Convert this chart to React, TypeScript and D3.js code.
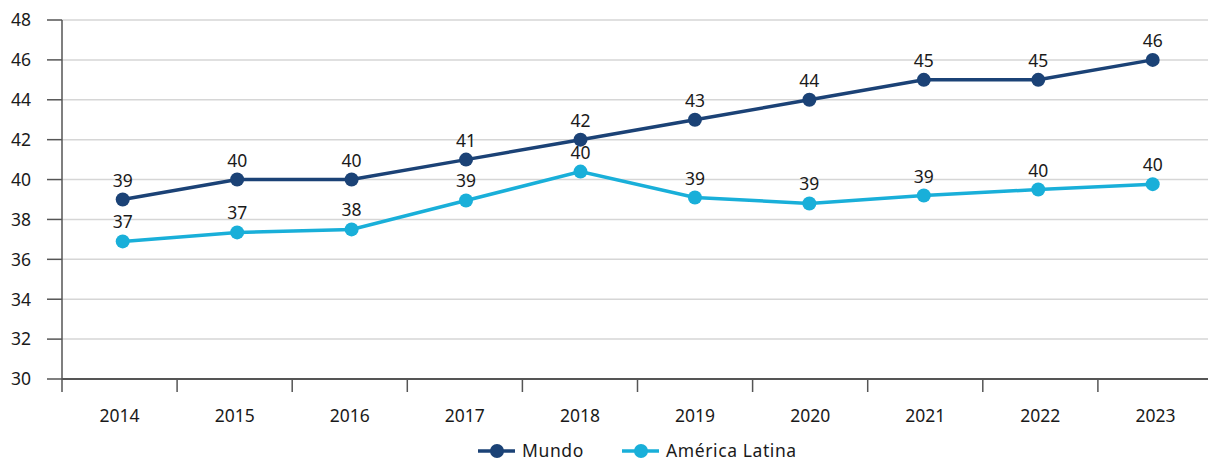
import React from "react";
import * as d3 from "d3";

const years = ["2014", "2015", "2016", "2017", "2018", "2019", "2020", "2021", "2022", "2023"];
const mundo = [39, 40, 40, 41, 42, 43, 44, 45, 45, 46];
const mundoLabels = ["39", "40", "40", "41", "42", "43", "44", "45", "45", "46"];
const latam = [36.9, 37.35, 37.5, 38.95, 40.4, 39.1, 38.8, 39.2, 39.5, 39.77];
const latamLabels = ["37", "37", "38", "39", "40", "39", "39", "39", "40", "40"];
const yTicks = [30, 32, 34, 36, 38, 40, 42, 44, 46, 48];
const seriesNames = ["Mundo", "América Latina"];
const colors = ["#1b4276", "#19afd9"];

const W = 1208;
const H = 461;
const FONT = "'Noto Sans', 'Open Sans', sans-serif";
const FS = 17.5;

export default function App() {
  const band = d3.scaleBand<string>().domain(years).range([62, 1213]).paddingInner(0).paddingOuter(0);
  const px = d3.scalePoint<string>().domain(years).range([122.7, 1152.7]);
  const y = d3.scaleLinear().domain([30, 48]).range([379, 20]);
  const line = d3
    .line<number>()
    .x((_, i) => px(years[i]) as number)
    .y((d) => y(d));

  const series = [
    { vals: mundo, labels: mundoLabels, color: colors[0] },
    { vals: latam, labels: latamLabels, color: colors[1] },
  ];

  const legendItems = [
    { x: 478, name: seriesNames[0], color: colors[0] },
    { x: 622, name: seriesNames[1], color: colors[1] },
  ];

  return (
    <svg
      width={W}
      height={H}
      style={{ position: "absolute", left: 0, top: 0, fontFamily: FONT }}
    >
      <rect width={W} height={H} fill="#fff" />
      {yTicks.map((t) => (
        <g key={t}>
          {t > 30 && <line x1={62} x2={W} y1={y(t)} y2={y(t)} stroke="#d6d6d6" strokeWidth={1.5} />}
          <line x1={47} x2={62} y1={y(t)} y2={y(t)} stroke="#555" strokeWidth={1.5} />
          <text x={31} y={y(t)} dy="0.36em" textAnchor="end" fontSize={FS} fill="#1a1a1a">
            {t}
          </text>
        </g>
      ))}
      <line x1={62} x2={62} y1={20} y2={392} stroke="#555" strokeWidth={1.5} />
      <line x1={62} x2={W} y1={379} y2={379} stroke="#555" strokeWidth={2} />
      {years.map((yr, i) => {
        const x0 = band(yr) as number;
        return (
          <g key={yr}>
            {i > 0 && <line x1={x0} x2={x0} y1={379} y2={392} stroke="#555" strokeWidth={1.5} />}
            <text x={x0 + band.bandwidth() / 2} y={422} textAnchor="middle" fontSize={FS} fill="#1a1a1a">
              {yr}
            </text>
          </g>
        );
      })}
      {series.map((s, si) => (
        <g key={si}>
          <path d={line(s.vals) || ""} fill="none" stroke={s.color} strokeWidth={3.5} />
          {s.vals.map((v, i) => (
            <circle key={i} cx={px(years[i]) as number} cy={y(v)} r={7} fill={s.color} />
          ))}
          {s.vals.map((v, i) => (
            <text
              key={"l" + i}
              x={px(years[i]) as number}
              y={y(v) - 13}
              textAnchor="middle"
              fontSize={FS}
              fill="#1a1a1a"
            >
              {s.labels[i]}
            </text>
          ))}
        </g>
      ))}
      {legendItems.map((it) => (
        <g key={it.name}>
          <line x1={it.x} x2={it.x + 37} y1={451} y2={451} stroke={it.color} strokeWidth={3.5} />
          <circle cx={it.x + 19} cy={451} r={7} fill={it.color} />
          <text x={it.x + 44} y={451} dy="0.36em" fontSize={FS} letterSpacing={0.6} fill="#1a1a1a">
            {it.name}
          </text>
        </g>
      ))}
    </svg>
  );
}
